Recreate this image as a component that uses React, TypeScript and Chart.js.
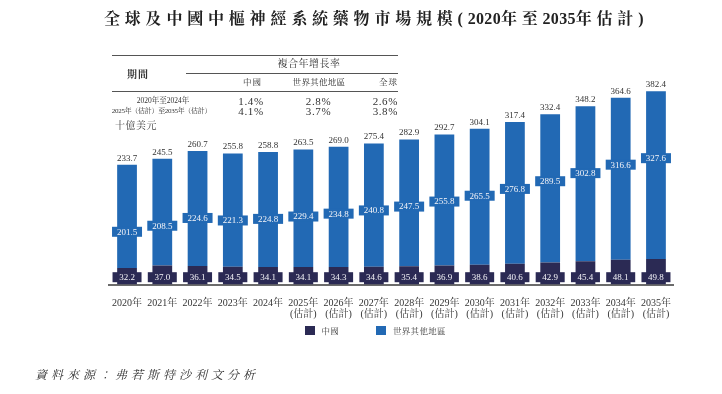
import React, { useEffect, useRef } from "react";
import { Chart, registerables } from "chart.js";

Chart.register(...registerables);

// ---------- data ----------
const years = [
  "2020年", "2021年", "2022年", "2023年", "2024年", "2025年", "2026年", "2027年",
  "2028年", "2029年", "2030年", "2031年", "2032年", "2033年", "2034年", "2035年",
];
const estimateTag = "(估計)";
const isEstimate = [
  false, false, false, false, false, true, true, true,
  true, true, true, true, true, true, true, true,
];
const chinaValues = [32.2, 37.0, 36.1, 34.5, 34.1, 34.1, 34.3, 34.6, 35.4, 36.9, 38.6, 40.6, 42.9, 45.4, 48.1, 49.8];
const restValues = [201.5, 208.5, 224.6, 221.3, 224.8, 229.4, 234.8, 240.8, 247.5, 255.8, 265.5, 276.8, 289.5, 302.8, 316.6, 327.6];
const totalValues = [233.7, 245.5, 260.7, 255.8, 258.8, 263.5, 269.0, 275.4, 282.9, 292.7, 304.1, 317.4, 332.4, 348.2, 364.6, 382.4];
const seriesNames = ["中國", "世界其他地區"];

const cagrTitle = "複合年增長率";
const periodHeader = "期間";
const cagrHeaders = ["中國", "世界其他地區", "全球"];
const cagrPeriods = ["2020年至2024年", "2025年（估計）至2035年（估計）"];
const cagrChina = ["1.4%", "4.1%"];
const cagrRest = ["2.8%", "3.7%"];
const cagrGlobal = ["2.6%", "3.8%"];
const unitLabel = "十億美元";
const sourceText = "資料來源：弗若斯特沙利文分析";

// ---------- styles ----------
const DARK = "#2b2a54";
const BLUE = "#2269b4";
const SERIF = "'Liberation Serif','Noto Serif CJK TC','Noto Sans CJK TC',serif";

const labelPlugin = {
  id: "barLabels",
  afterDatasetsDraw(chart: any) {
    const ctx = chart.ctx;
    const m0 = chart.getDatasetMeta(0);
    const m1 = chart.getDatasetMeta(1);
    ctx.save();
    ctx.font = `9px ${SERIF}`;
    ctx.textAlign = "center";
    ctx.textBaseline = "middle";
    m0.data.forEach((el: any, i: number) => {
      const x = el.x;
      const base = el.base;
      ctx.fillStyle = DARK;
      ctx.fillRect(x - 14.5, base - 12.3, 29, 10);
      ctx.fillStyle = "#f4f4f8";
      ctx.fillText(chinaValues[i].toFixed(1), x, base - 7);
      const top = m1.data[i].y;
      const ly = top + 67;
      ctx.fillStyle = BLUE;
      ctx.fillRect(x - 15, ly - 5, 30, 10);
      ctx.fillStyle = "#f4f4f8";
      ctx.fillText(restValues[i].toFixed(1), x, ly + 0.5);
      ctx.fillStyle = "#333";
      ctx.fillText(totalValues[i].toFixed(1), x, top - 6.5);
    });
    ctx.restore();
  },
};

type TProps = {
  x: number;
  y: number;
  text: string;
  size: number;
  align?: "left" | "center" | "right";
  bold?: boolean;
  italic?: boolean;
  spacing?: number;
  color?: string;
};

function T({ x, y, text, size, align = "left", bold, italic, spacing = 0, color = "#333" }: TProps) {
  const tx = align === "center" ? "-50%" : align === "right" ? "-100%" : "0";
  return (
    <div
      style={{
        position: "absolute",
        left: x,
        top: y,
        transform: `translate(${tx}, -50%)`,
        fontFamily: SERIF,
        fontSize: size,
        fontWeight: bold ? 700 : 400,
        fontStyle: italic ? "italic" : "normal",
        letterSpacing: spacing,
        color,
        whiteSpace: "nowrap",
        lineHeight: 1,
      }}
    >
      {text}
    </div>
  );
}

function Line({ x1, x2, y, w = 1.5, color = "#555" }: { x1: number; x2: number; y: number; w?: number; color?: string }) {
  return (
    <div
      style={{
        position: "absolute",
        left: x1,
        top: y - w / 2,
        width: x2 - x1,
        height: w,
        background: color,
      }}
    />
  );
}

export default function App() {
  const ref = useRef<HTMLCanvasElement | null>(null);

  useEffect(() => {
    if (!ref.current) return;
    const chart = new Chart(ref.current, {
      type: "bar",
      data: {
        labels: years.map((y, i) => (isEstimate[i] ? [y, estimateTag] : [y])),
        datasets: [
          {
            label: seriesNames[0],
            data: chinaValues,
            backgroundColor: DARK,
            stack: "s",
            barPercentage: 0.56,
            categoryPercentage: 1,
          },
          {
            label: seriesNames[1],
            data: restValues,
            backgroundColor: BLUE,
            stack: "s",
            barPercentage: 0.56,
            categoryPercentage: 1,
          },
        ],
      },
      options: {
        animation: false,
        responsive: false,
        devicePixelRatio: 1,
        layout: { padding: { left: 109.4, right: 48.4, top: 79.6, bottom: 60.5 } },
        plugins: {
          legend: { display: false },
          tooltip: { enabled: false },
          title: { display: false },
        },
        scales: {
          x: {
            stacked: true,
            grid: { display: false, drawTicks: false },
            border: { display: true, color: "#6b6b6b", width: 2 },
            ticks: {
              color: "#333",
              font: { family: SERIF, size: 10, lineHeight: 1.1 },
              padding: 13.5,
              maxRotation: 0,
              autoSkip: false,
            },
          },
          y: {
            stacked: true,
            display: false,
            min: 0,
            max: 400,
          },
        },
      },
      plugins: [labelPlugin],
    });
    return () => chart.destroy();
  }, []);

  const cjkTitle = (s: string) => <span style={{ letterSpacing: 4.8 }}>{s}</span>;
  const numTitle = (s: string) => <span style={{ letterSpacing: 0.3 }}>{s}</span>;

  return (
    <div style={{ position: "absolute", left: 0, top: 0, width: 722, height: 394, background: "#fff", overflow: "hidden" }}>
      <canvas ref={ref} width={722} height={394} style={{ position: "absolute", left: 0, top: 0 }} />
      {/* title */}
      <div
        style={{
          position: "absolute",
          left: 104,
          top: 19,
          transform: "translateY(-50%)",
          fontFamily: SERIF,
          fontSize: 16,
          fontWeight: 700,
          color: "#222",
          whiteSpace: "nowrap",
          lineHeight: 1,
        }}
      >
        {cjkTitle("全球及中國中樞神經系統藥物市場規模(")}
        {numTitle("2020")}
        {cjkTitle("年至")}
        {numTitle("2035")}
        {cjkTitle("年估計")}
        <span>)</span>
      </div>

      {/* CAGR table */}
      <Line x1={112} x2={398} y={55.5} w={1.5} color="#555" />
      <Line x1={186} x2={398} y={73.3} w={1} color="#555" />
      <Line x1={112} x2={398} y={91} w={1} color="#555" />
      <T x={138} y={75} text={periodHeader} size={10} bold align="center" spacing={1} />
      <T x={309} y={64} text={cagrTitle} size={10} align="center" spacing={0.5} />
      <T x={252.5} y={82} text={cagrHeaders[0]} size={8.5} align="center" spacing={1} />
      <T x={319} y={82} text={cagrHeaders[1]} size={8.5} align="center" spacing={0.3} />
      <T x={398} y={82} text={cagrHeaders[2]} size={8.5} align="right" spacing={1} />
      <T x={163} y={100.7} text={cagrPeriods[0]} size={7.5} align="center" />
      <T x={161.5} y={110.5} text={cagrPeriods[1]} size={7} align="center" spacing={-0.3} />
      <T x={251} y={100.7} text={cagrChina[0]} size={11} align="center" spacing={0.6} />
      <T x={251} y={111} text={cagrChina[1]} size={11} align="center" spacing={0.6} />
      <T x={318.5} y={100.7} text={cagrRest[0]} size={11} align="center" spacing={0.6} />
      <T x={318.5} y={111} text={cagrRest[1]} size={11} align="center" spacing={0.6} />
      <T x={398} y={100.7} text={cagrGlobal[0]} size={11} align="right" spacing={0.6} />
      <T x={398} y={111} text={cagrGlobal[1]} size={11} align="right" spacing={0.6} />

      <T x={115} y={126} text={unitLabel} size={10} spacing={0.5} color="#444" />

      {/* legend */}
      <div style={{ position: "absolute", left: 305, top: 326, width: 10, height: 9, background: DARK }} />
      <T x={321.5} y={331} text={seriesNames[0]} size={8.5} spacing={0.3} color="#444" />
      <div style={{ position: "absolute", left: 376, top: 326, width: 10, height: 9, background: BLUE }} />
      <T x={393} y={331} text={seriesNames[1]} size={8.5} spacing={0.3} color="#444" />

      {/* source */}
      <T x={35} y={375} text={sourceText} size={12} italic spacing={4} color="#333" />
    </div>
  );
}
